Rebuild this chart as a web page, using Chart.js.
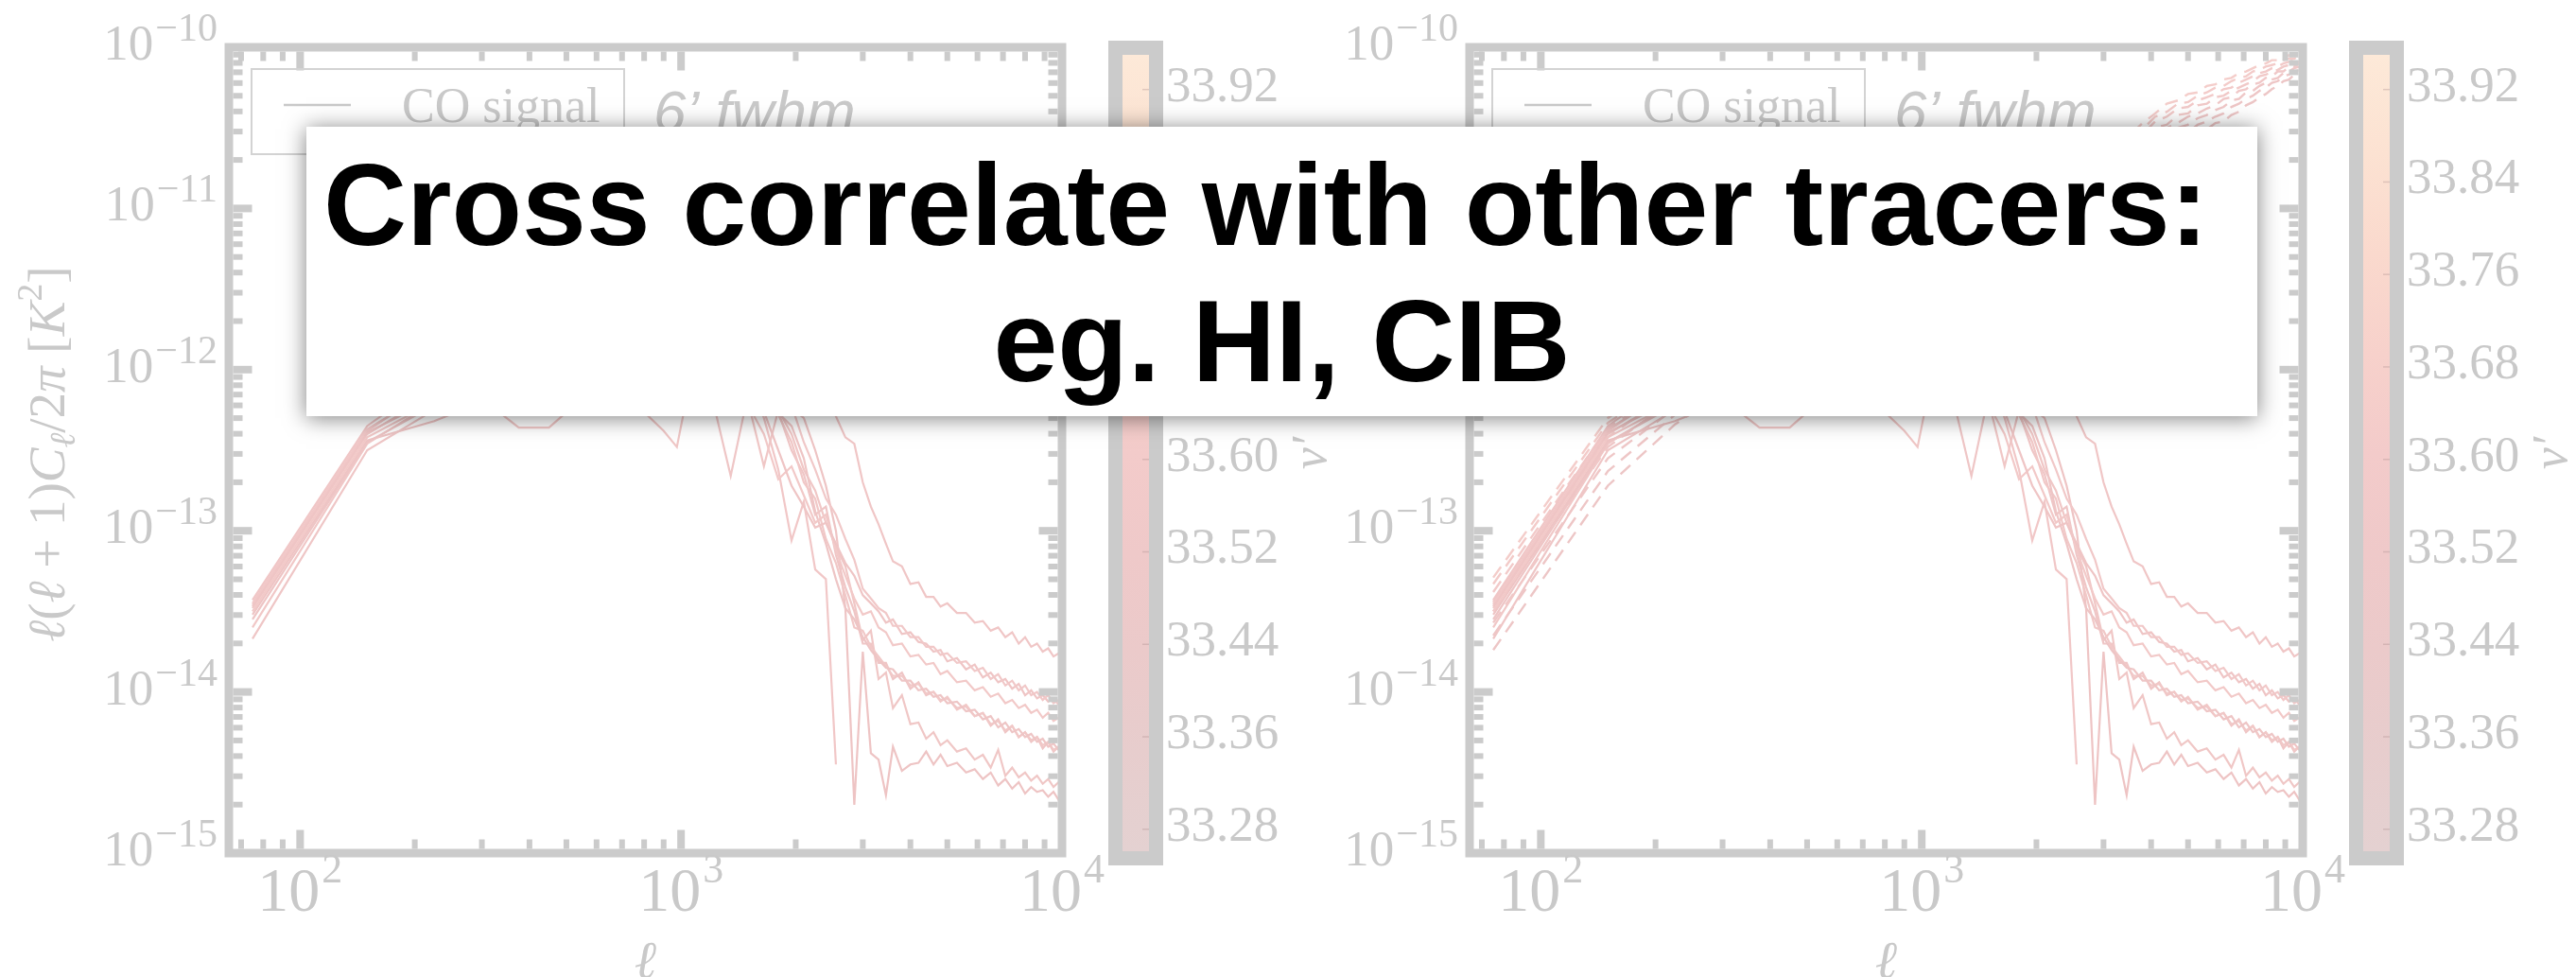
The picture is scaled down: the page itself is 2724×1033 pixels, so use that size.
<!DOCTYPE html>
<html>
<head>
<meta charset="utf-8">
<title>CO signal power spectra</title>
<script src="https://cdn.jsdelivr.net/npm/chart.js@4.4.1/dist/chart.umd.min.js"></script>
<style>
  html, body { margin: 0; padding: 0; background: #ffffff; }
  body { position: relative; width: 2724px; height: 1033px; overflow: hidden; }
  canvas { position: absolute; left: 0; top: 0; }
  #callout {
    position: absolute; left: 324px; top: 134px; width: 2063px; height: 306px;
    box-sizing: border-box; padding-top: 11px;
    background: #ffffff; box-shadow: 0 2px 22px rgba(0, 0, 0, 0.5);
    font-family: "Liberation Sans", Arial, sans-serif; font-weight: bold;
    font-size: 122px; line-height: 144px; text-align: center; color: #000000;
  }
</style>
</head>
<body>
<canvas id="leftSpec" width="2724" height="1033"></canvas>
<canvas id="rightSpec" width="2724" height="1033"></canvas>
<canvas id="leftBar" width="2724" height="1033"></canvas>
<canvas id="rightBar" width="2724" height="1033"></canvas>
<div id="callout">Cross correlate with other tracers:&nbsp;<br>eg. HI, CIB</div>

<script>
// multipole bins of the CO maps
var ells = [75, 150, 225, 300, 375, 450, 600, 750, 900, 975, 1050, 1200, 1350, 1500, 1650, 1800, 1950, 2100, 2250, 2400,
  2550, 2700, 2850, 3000, 3150, 3300, 3450, 3600, 3800, 4000, 4200, 4400, 4600, 4800, 5000, 5300, 5600, 5900, 6200, 6500,
  6800, 7100, 7400, 7700, 8000, 8300, 8600, 8900, 9200, 9500, 9800, 10000];

// log10 of l(l+1)C_l/2pi [K^2], CO signal, one line per frequency channel (solid)
var sig1 = [-13.43, -12.35, -12.05, -11.88, -11.75, -11.66, -11.55, -11.5, -11.48, -11.47, -11.47, -11.5, -11.53, -11.58, -11.64, -11.7, -11.78, -11.85, -11.93, -12.05,
  -12.29, -12.42, -12.46, -12.7, -12.85, -12.96, -13.08, -13.19, -13.22, -13.33, -13.32, -13.41, -13.41, -13.47, -13.45, -13.51, -13.51, -13.57, -13.56, -13.62,
  -13.6, -13.66, -13.63, -13.7, -13.66, -13.72, -13.7, -13.75, -13.73, -13.78, -13.76, -13.79];
var sig2 = [-13.45, -12.37, -12.12, -11.98, -11.9, -11.84, -11.78, -11.76, -11.78, -11.8, -11.82, -11.86, -11.9, -11.96, -12.02, -12.1, -12.22, -12.45, -12.62, -12.8,
  -12.9, -13.05, -13.18, -13.36, -13.42, -13.48, -13.51, -13.59, -13.59, -13.66, -13.66, -13.72, -13.72, -13.77, -13.76, -13.82, -13.81, -13.87, -13.85, -13.92,
  -13.89, -13.96, -13.93, -13.99, -13.96, -14.02, -14.0, -14.05, -14.02, -14.07, -14.05, -14.07];
var sig3 = [-13.47, -12.39, -12.18, -12.03, -11.95, -11.9, -11.85, -11.86, -11.9, -11.93, -11.95, -12.0, -12.06, -12.14, -12.26, -12.5, -12.72, -12.85, -12.98, -12.95,
  -13.08, -13.2, -13.28, -13.4, -13.45, -13.5, -13.57, -13.55, -13.64, -13.63, -13.69, -13.7, -13.75, -13.74, -13.81, -13.79, -13.86, -13.83, -13.91, -13.88,
  -13.94, -13.92, -13.98, -13.95, -14.02, -13.99, -14.04, -14.02, -14.06, -14.04, -14.08, -14.08];
var sig4 = [-13.5, -12.42, -12.2, -12.08, -12.0, -11.95, -11.9, -11.92, -11.96, -12.0, -12.02, -12.08, -12.14, -12.22, -12.4, -12.68, -12.6, -12.78, -12.95, -12.9,
  -13.12, -13.28, -13.42, -13.52, -13.5, -13.6, -13.63, -13.71, -13.7, -13.78, -13.77, -13.83, -13.82, -13.89, -13.87, -13.94, -13.93, -13.99, -13.97, -14.03,
  -14.01, -14.07, -14.05, -14.1, -14.08, -14.13, -14.11, -14.16, -14.13, -14.18, -14.16, -14.19];
var sig5 = [-13.55, -12.45, -12.22, -12.1, -12.02, -11.98, -11.94, -11.95, -11.98, -12.0, -12.03, -12.08, -12.12, -12.18, -12.24, -12.27, -12.35, -12.55, -12.88, -13.08,
  -13.3, -13.48, -13.55, -13.66, -13.74, -13.8, -13.85, -13.86, -13.93, -13.93, -13.99, -13.98, -14.03, -14.02, -14.07, -14.06, -14.12, -14.11, -14.17, -14.15,
  -14.22, -14.19, -14.25, -14.23, -14.28, -14.26, -14.31, -14.29, -14.34, -14.32, -14.36, -14.35];
var sig6 = [-13.6, -12.46, -12.2, -12.18, -12.36, -12.36, -12.1, -11.98, -11.98, -12.0, -12.04, -12.1, -12.15, -12.2, -12.25, -12.28, -12.45, -12.7, -12.8, -13.05,
  -13.2, -13.4, -13.6, -13.62, -13.72, -13.78, -13.84, -13.9, -13.9, -13.96, -13.95, -14.01, -14.0, -14.06, -14.03, -14.11, -14.08, -14.15, -14.13, -14.2,
  -14.18, -14.24, -14.21, -14.28, -14.25, -14.3, -14.28, -14.33, -14.31, -14.36, -14.34, -14.37];
var sig7 = [-13.67, -12.5, -12.25, -12.12, -12.05, -12.0, -11.97, -11.98, -12.02, -12.05, -12.08, -12.15, -12.66, -12.15, -12.2, -12.26, -12.5, -12.65, -12.9, -12.85,
  -13.15, -13.35, -13.5, -13.7, -13.7, -13.82, -13.82, -13.92, -13.88, -13.98, -13.94, -14.02, -14.0, -14.05, -14.04, -14.1, -14.09, -14.15, -14.13, -14.21,
  -14.17, -14.25, -14.21, -14.28, -14.25, -14.31, -14.28, -14.35, -14.31, -14.37, -14.34, -14.37];
var sig8 = [-13.48, -12.4, -12.15, -12.05, -12.0, -12.0, -12.05, -12.2, -12.38, -12.48, -12.1, -12.12, -12.15, -12.2, -12.6, -12.25, -12.4, -12.62, -12.75, -12.95,
  -13.1, -13.22, -13.45, -13.68, -13.62, -13.92, -13.88, -14.1, -14.02, -14.2, -14.19, -14.29, -14.25, -14.33, -14.3, -14.37, -14.35, -14.42, -14.39, -14.47,
  -14.36, -14.52, -14.47, -14.53, -14.5, -14.55, -14.52, -14.57, -14.54, -14.59, -14.56, -14.58];
var sig9 = [-13.52, -12.44, -12.32, -12.2, -12.06, -11.98, -11.9, -11.88, -11.9, -11.92, -11.95, -12.0, -12.05, -12.1, -12.15, -12.2, -12.24, -12.3, -12.5, -12.72,
  -13.0, -13.48, -14.7, -13.75, -14.38, -14.42, -14.64, -14.34, -14.49, -14.45, -14.44, -14.37, -14.45, -14.39, -14.46, -14.44, -14.5, -14.48, -14.54, -14.5,
  -14.58, -14.54, -14.6, -14.56, -14.63, -14.59, -14.62, -14.61, -14.65, -14.62, -14.67, -14.66];
// this channel goes negative after l ~ 2500
var sig10 = [-13.46, -12.38, -12.1, -11.95, -11.85, -11.78, -11.72, -11.7, -11.72, -11.75, -11.78, -11.85, -11.92, -12.05, -12.3, -12.62, -13.06, -12.82, -13.24, -13.3,
  -14.45];

// signal + noise (dashed), right panel only
var ellsNoise = [75, 150, 225, 300, 450, 600, 900, 1200, 1500, 2000, 2500, 3000, 3400, 3800, 4100, 4400, 4700, 5000, 5300, 5600,
  5900, 6200, 6500, 6800, 7100, 7400, 7700, 8000, 8300, 8600, 8900, 9200, 9500, 9800, 10000];
var tot1 = [-13.29, -12.3, -12.0, -11.86, -11.72, -11.62, -11.52, -11.42, -11.32, -11.12, -10.92, -10.72, -10.58, -10.47, -10.41, -10.35, -10.33, -10.29, -10.28, -10.24,
  -10.23, -10.2, -10.19, -10.16, -10.15, -10.13, -10.11, -10.1, -10.08, -10.08, -10.06, -10.05, -10.05, -10.03, -10.03];
var tot2 = [-13.33, -12.33, -12.05, -11.9, -11.75, -11.66, -11.55, -11.46, -11.36, -11.16, -10.96, -10.76, -10.62, -10.51, -10.43, -10.4, -10.35, -10.34, -10.3, -10.28,
  -10.25, -10.24, -10.21, -10.19, -10.18, -10.15, -10.14, -10.12, -10.11, -10.1, -10.08, -10.07, -10.07, -10.05, -10.05];
var tot3 = [-13.38, -12.36, -12.1, -11.94, -11.8, -11.7, -11.6, -11.5, -11.4, -11.2, -11.0, -10.8, -10.66, -10.54, -10.46, -10.43, -10.38, -10.37, -10.33, -10.31,
  -10.29, -10.26, -10.25, -10.22, -10.2, -10.18, -10.16, -10.15, -10.13, -10.12, -10.1, -10.09, -10.08, -10.07, -10.06];
var tot4 = [-13.44, -12.42, -12.12, -11.98, -11.84, -11.74, -11.64, -11.54, -11.44, -11.24, -11.04, -10.84, -10.7, -10.59, -10.5, -10.48, -10.42, -10.41, -10.36, -10.35,
  -10.31, -10.3, -10.27, -10.25, -10.23, -10.21, -10.18, -10.17, -10.15, -10.14, -10.12, -10.11, -10.09, -10.09, -10.08];
var tot5 = [-13.5, -12.48, -12.18, -12.02, -11.88, -11.78, -11.68, -11.58, -11.48, -11.28, -11.08, -10.88, -10.74, -10.63, -10.55, -10.5, -10.47, -10.43, -10.41, -10.38,
  -10.36, -10.32, -10.31, -10.27, -10.26, -10.23, -10.22, -10.19, -10.18, -10.15, -10.15, -10.12, -10.12, -10.1, -10.09];
var tot6 = [-13.57, -12.55, -12.24, -12.06, -11.92, -11.82, -11.72, -11.62, -11.52, -11.32, -11.12, -10.92, -10.79, -10.67, -10.6, -10.55, -10.5, -10.48, -10.44, -10.42,
  -10.39, -10.37, -10.33, -10.32, -10.28, -10.27, -10.24, -10.22, -10.2, -10.19, -10.16, -10.15, -10.13, -10.12, -10.11];
var tot7 = [-13.65, -12.63, -12.28, -12.1, -11.96, -11.86, -11.76, -11.66, -11.56, -11.36, -11.16, -10.96, -10.84, -10.72, -10.65, -10.6, -10.55, -10.53, -10.48, -10.46,
  -10.43, -10.41, -10.37, -10.35, -10.32, -10.3, -10.27, -10.25, -10.22, -10.21, -10.18, -10.17, -10.15, -10.14, -10.12];
var tot8 = [-13.74, -12.72, -12.34, -12.14, -12.0, -11.9, -11.8, -11.7, -11.6, -11.4, -11.2, -11.0, -10.88, -10.77, -10.7, -10.65, -10.6, -10.58, -10.53, -10.51,
  -10.47, -10.46, -10.42, -10.4, -10.36, -10.34, -10.31, -10.29, -10.26, -10.24, -10.21, -10.2, -10.17, -10.16, -10.14];

var sigLines = [sig1, sig2, sig3, sig4, sig5, sig6, sig7, sig8, sig9, sig10];
var totLines = [tot1, tot2, tot3, tot4, tot5, tot6, tot7, tot8];

// axes
var ellMin = 65, ellMax = 10000;
var powMin = 1e-15, powMax = 1e-10;
var xMajor = [100, 1000, 10000];
var xMajorExp = ['2', '3', '4'];
var yMajor = [1e-15, 1e-14, 1e-13, 1e-12, 1e-11, 1e-10];
var yMajorExp = ['\u221215', '\u221214', '\u221213', '\u221212', '\u221211', '\u221210'];

// colour bar, nu' channel values
var nuMin = 33.261, nuMax = 33.95;
var nuTicks = [33.28, 33.36, 33.44, 33.52, 33.60, 33.68, 33.76, 33.84, 33.92];
var nuTickLabels = ['33.28', '33.36', '33.44', '33.52', '33.60', '33.68', '33.76', '33.84', '33.92'];

var legendText = 'CO signal';
var beamText = '6\u2019 fwhm';
var nuTitle = '\u03bd\u2032';

// styles
var frameGray = '#cbcbcb';
var textGray = '#c9c9c9';
var serif = '"Liberation Serif", "DejaVu Serif", serif';
var sigColors = ['#f0c6c6', '#f1c8c8', '#efc5c5', '#f2c9c8', '#eec5c5', '#f1c8c7', '#efc6c6', '#f0c7c6', '#eec4c4', '#f1c7c7'];
var totColors = ['#f4cdca', '#f3cbc9', '#f2cac9', '#f1c9c8', '#f0c8c8', '#efc7c7', '#eec6c6', '#edc6c6'];
var cbColors = ['#e4d1d1', '#e7cdcd', '#ebcaca', '#efc9c9', '#f3cbca', '#f7d1cb', '#fad9cd', '#fce2d2', '#fde9d8'];

var W = 2724, H = 1033;

function toPoints(grid, vals) {
  var pts = [];
  for (var i = 0; i < vals.length; i++) {
    pts.push({ x: grid[i], y: vals[i] === null ? null : Math.pow(10, vals[i]) });
  }
  return pts;
}

function drawPow(ctx, base, exp, x, y, align, bigSize, smallSize, rise) {
  ctx.font = bigSize + 'px ' + serif;
  var w1 = ctx.measureText(base).width;
  ctx.font = smallSize + 'px ' + serif;
  var w2 = ctx.measureText(exp).width;
  var gap = 2;
  var x0 = align === 'right' ? x - w1 - gap - w2 : x - (w1 + gap + w2) / 2;
  ctx.textAlign = 'left';
  ctx.font = bigSize + 'px ' + serif;
  ctx.fillText(base, x0, y);
  ctx.font = smallSize + 'px ' + serif;
  ctx.fillText(exp, x0 + w1 + gap, y - rise);
}

// y title pieces: text, style, shift (+1 sub, -1 sup)
var yTitleParts = [
  ['\u2113', 'i', 0], ['(', 'r', 0], ['\u2113', 'i', 0], [' + 1)', 'r', 0], ['C', 'i', 0], ['\u2113', 'i', 1],
  ['/2', 'r', 0], ['\u03c0', 'i', 0], [' [', 'r', 0], ['K', 'i', 0], ['2', 'r', -1], [']', 'r', 0]
];

function partFont(p) {
  var size = p[2] === 0 ? 55 : 38;
  return (p[1] === 'i' ? 'italic ' : '') + size + 'px ' + serif;
}

var specDecor = {
  id: 'specDecor',
  afterDatasetsDraw: function (chart, args, opts) {
    var ctx = chart.ctx, a = chart.chartArea, xs = chart.scales.x, ys = chart.scales.y;
    var i, k, v, p;
    ctx.save();
    ctx.fillStyle = frameGray;

    // inward ticks on all four sides
    function xTick(val, len, wid) {
      var px = xs.getPixelForValue(val);
      if (px < a.left + 6 || px > a.right - 6) return;
      ctx.fillRect(px - wid / 2, a.bottom - 4.5 - len, wid, len);
      ctx.fillRect(px - wid / 2, a.top + 4.5, wid, len);
    }
    function yTick(val, len, wid) {
      var py = ys.getPixelForValue(val);
      if (py < a.top + 6 || py > a.bottom - 6) return;
      ctx.fillRect(a.left + 4.5, py - wid / 2, len, wid);
      ctx.fillRect(a.right - 4.5 - len, py - wid / 2, len, wid);
    }
    for (i = 0; i < xMajor.length; i++) {
      xTick(xMajor[i], 20, 8);
      for (k = 2; k <= 9; k++) {
        v = k * xMajor[i] / 10;
        if (v > ellMin) xTick(v, 10, 6);
      }
    }
    for (i = 0; i < yMajor.length; i++) {
      yTick(yMajor[i], 20, 8);
      if (i < yMajor.length - 1) {
        for (k = 2; k <= 9; k++) yTick(k * yMajor[i], 10, 6);
      }
    }

    ctx.strokeStyle = frameGray;
    ctx.lineWidth = 9;
    ctx.strokeRect(a.left, a.top, a.right - a.left, a.bottom - a.top);

    // tick labels
    ctx.fillStyle = textGray;
    ctx.textBaseline = 'alphabetic';
    for (i = 0; i < xMajor.length; i++) {
      drawPow(ctx, '10', xMajorExp[i], xs.getPixelForValue(xMajor[i]), a.bottom + 61, 'center', 66, 44, 30);
    }
    for (i = 0; i < yMajor.length; i++) {
      drawPow(ctx, '10', yMajorExp[i], a.left - 12, ys.getPixelForValue(yMajor[i]) + 13, 'right', 53, 42, 20);
    }

    // x title
    ctx.font = 'italic 56px ' + serif;
    ctx.textAlign = 'center';
    ctx.fillText('\u2113', (a.left + a.right) / 2, a.bottom + 132);

    // y title
    if (opts.yTitle) {
      var total = 0;
      for (i = 0; i < yTitleParts.length; i++) {
        ctx.font = partFont(yTitleParts[i]);
        total += ctx.measureText(yTitleParts[i][0]).width;
      }
      ctx.save();
      ctx.translate(a.left - 174, (a.top + a.bottom) / 2 + 4);
      ctx.rotate(-Math.PI / 2);
      ctx.textAlign = 'left';
      var cx = -total / 2;
      for (i = 0; i < yTitleParts.length; i++) {
        p = yTitleParts[i];
        ctx.font = partFont(p);
        ctx.fillText(p[0], cx, p[2] === 1 ? 11 : (p[2] === -1 ? -24 : 0));
        cx += ctx.measureText(p[0]).width;
      }
      ctx.restore();
    }

    // legend
    ctx.strokeStyle = '#d3d3d3';
    ctx.lineWidth = 2;
    ctx.strokeRect(a.left + 24, a.top + 23, 394, 90);
    ctx.strokeStyle = textGray;
    ctx.lineWidth = 2.5;
    ctx.beginPath();
    ctx.moveTo(a.left + 58, a.top + 61);
    ctx.lineTo(a.left + 129, a.top + 61);
    ctx.stroke();
    ctx.textAlign = 'left';
    ctx.font = '52px ' + serif;
    ctx.fillText(legendText, a.left + 183, a.top + 79);

    ctx.font = 'italic 62px "Liberation Sans", "DejaVu Sans", sans-serif';
    ctx.fillText(beamText, a.left + 449, a.top + 89);
    ctx.restore();
  }
};

var barDecor = {
  id: 'barDecor',
  afterDatasetsDraw: function (chart) {
    var ctx = chart.ctx, a = chart.chartArea, ys = chart.scales.y;
    var i, py;
    ctx.save();
    ctx.strokeStyle = 'rgba(170, 140, 140, 0.35)';
    ctx.lineWidth = 1.5;
    for (i = 0; i < nuTicks.length; i++) {
      py = ys.getPixelForValue(nuTicks[i]);
      ctx.beginPath();
      ctx.moveTo(a.right - 7, py);
      ctx.lineTo(a.right, py);
      ctx.stroke();
    }
    ctx.strokeStyle = frameGray;
    ctx.lineWidth = 15;
    ctx.strokeRect(a.left - 7.5, a.top - 7.5, a.right - a.left + 15, a.bottom - a.top + 15);

    ctx.fillStyle = textGray;
    ctx.font = '53px ' + serif;
    ctx.textAlign = 'left';
    ctx.textBaseline = 'alphabetic';
    for (i = 0; i < nuTicks.length; i++) {
      py = ys.getPixelForValue(nuTicks[i]);
      ctx.fillText(nuTickLabels[i], a.right + 18, py + 12);
    }
    ctx.save();
    ctx.translate(a.right + 187, (a.top + a.bottom) / 2);
    ctx.rotate(-Math.PI / 2);
    ctx.textAlign = 'center';
    ctx.font = 'italic 52px ' + serif;
    ctx.fillText(nuTitle, 0, 0);
    ctx.restore();
    ctx.restore();
  }
};

function makeSpectrum(id, left, right, withNoise, yTitle) {
  var sets = [];
  sigLines.forEach(function (vals, i) {
    sets.push({
      data: toPoints(ells, vals),
      borderColor: sigColors[i],
      borderWidth: 2.2,
      pointRadius: 0,
      tension: 0,
      fill: false
    });
  });
  if (withNoise) {
    totLines.forEach(function (vals, i) {
      sets.push({
        data: toPoints(ellsNoise, vals),
        borderColor: totColors[i],
        borderWidth: 2.4,
        borderDash: [14, 9],
        pointRadius: 0,
        tension: 0,
        fill: false
      });
    });
  }
  return new Chart(document.getElementById(id), {
    type: 'line',
    data: { datasets: sets },
    options: {
      responsive: false,
      animation: false,
      devicePixelRatio: 1,
      layout: { padding: { left: left, right: W - right, top: 50, bottom: H - 902 } },
      plugins: { legend: { display: false }, tooltip: { enabled: false }, specDecor: { yTitle: yTitle } },
      scales: {
        x: { type: 'logarithmic', min: ellMin, max: ellMax, display: false },
        y: { type: 'logarithmic', min: powMin, max: powMax, display: false }
      }
    },
    plugins: [specDecor]
  });
}

function makeColorbar(id, left, right) {
  return new Chart(document.getElementById(id), {
    type: 'bar',
    data: {
      labels: ['nu'],
      datasets: [{
        data: [[nuMin, nuMax]],
        barPercentage: 1,
        categoryPercentage: 1,
        borderWidth: 0,
        backgroundColor: function (c) {
          var a = c.chart.chartArea;
          if (!a) return cbColors[4];
          var g = c.chart.ctx.createLinearGradient(0, a.bottom, 0, a.top);
          cbColors.forEach(function (col, i) { g.addColorStop(i / (cbColors.length - 1), col); });
          return g;
        }
      }]
    },
    options: {
      responsive: false,
      animation: false,
      devicePixelRatio: 1,
      layout: { padding: { left: left, right: W - right, top: 58, bottom: H - 900 } },
      plugins: { legend: { display: false }, tooltip: { enabled: false } },
      scales: {
        x: { display: false },
        y: { min: nuMin, max: nuMax, display: false }
      }
    },
    plugins: [barDecor]
  });
}

makeSpectrum('leftSpec', 242, 1123, false, true);
makeSpectrum('rightSpec', 1554, 2435, true, false);
makeColorbar('leftBar', 1187, 1215);
makeColorbar('rightBar', 2499, 2527);
</script>
</body>
</html>
